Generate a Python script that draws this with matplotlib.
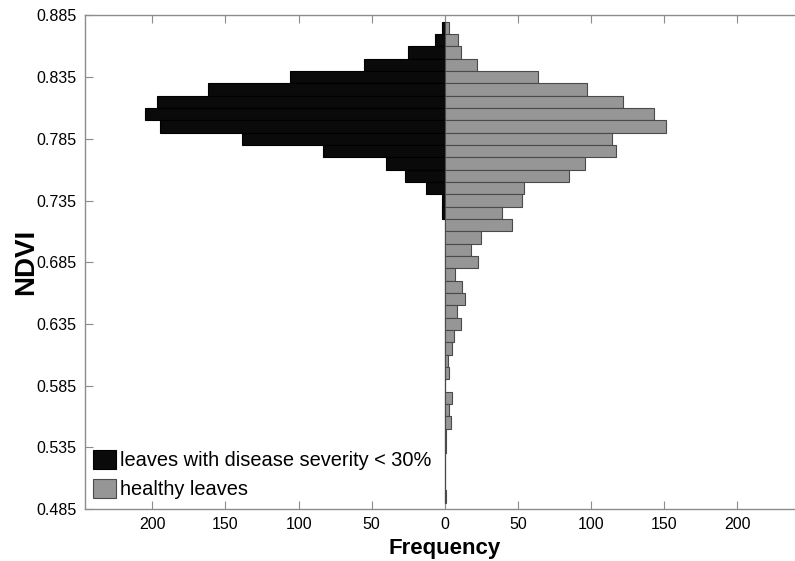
import matplotlib
matplotlib.use('Agg')
import matplotlib.pyplot as plt
import numpy as np

# NDVI bin centres (bin width 0.01), from top to bottom
ndvi = [0.875, 0.865, 0.855, 0.845, 0.835, 0.825, 0.815, 0.805, 0.795, 0.785,
        0.775, 0.765, 0.755, 0.745, 0.735, 0.725, 0.715, 0.705, 0.695, 0.685,
        0.675, 0.665, 0.655, 0.645, 0.635, 0.625, 0.615, 0.605, 0.595, 0.585,
        0.575, 0.565, 0.555, 0.545, 0.535, 0.525, 0.515, 0.505, 0.495]
diseased = [2, 7, 25, 55, 106, 162, 197, 205, 195, 139,
            83, 40, 27, 13, 2, 2, 0, 0, 0, 0,
            0, 0, 0, 0, 0, 0, 0, 0, 0, 0,
            0, 0, 0, 0, 0, 0, 0, 0, 0]
healthy = [3, 9, 11, 22, 64, 97, 122, 143, 151, 114,
           117, 96, 85, 54, 53, 39, 46, 25, 18, 23,
           7, 12, 14, 8, 11, 6, 5, 2, 3, 0,
           5, 3, 4, 1, 1, 0, 0, 0, 1]
yticks = [0.485, 0.535, 0.585, 0.635, 0.685, 0.735, 0.785, 0.835, 0.885]
xticks = [-200, -150, -100, -50, 0, 50, 100, 150, 200]

plt.rcParams['font.family'] = ['Liberation Sans', 'DejaVu Sans']
SPINE = '#8c8c8c'

fig = plt.figure(figsize=(7.95, 5.61), dpi=100)
ax = fig.add_axes([0.107, 0.0927, 0.905, 0.8797])

ax.axvline(0, color=SPINE, lw=0.8, zorder=1)
ax.barh(ndvi, -np.array(diseased), height=0.01, color='#0a0a0a', edgecolor='#000000',
        linewidth=0.8, label='leaves with disease severity < 30%', zorder=2)
ax.barh(ndvi, healthy, height=0.01, color='#969696', edgecolor='#4a4a4a',
        linewidth=0.8, label='healthy leaves', zorder=2)

ax.set_xlim(-246, 246)
ax.set_ylim(0.485, 0.885)
ax.set_yticks(yticks)
ax.set_yticklabels([f"{v:.3f}" for v in yticks])
ax.set_xticks(xticks)
ax.set_xticklabels([str(abs(v)) for v in xticks])
ax.tick_params(direction='in', length=6, width=0.8, color=SPINE, labelsize=11.5,
               top=True, right=False, pad=6)
for s in ax.spines.values():
    s.set_color(SPINE)
    s.set_linewidth(1.0)

ax.set_xlabel('Frequency', fontsize=16, fontweight='bold', labelpad=4)
ax.set_ylabel('NDVI', fontsize=20, fontweight='bold', labelpad=-2)

ax.legend(loc='lower left', bbox_to_anchor=(0.117, 0.110), bbox_transform=fig.transFigure,
          frameon=False, fontsize=14.4, handlelength=1.15, handleheight=1.05,
          handletextpad=0.2, labelspacing=0.45, borderpad=0, borderaxespad=0)

fig.savefig('out.png', dpi=100)
